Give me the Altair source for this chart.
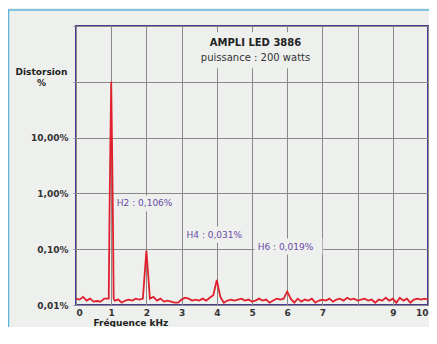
import altair as alt
import pandas as pd

# Spectrum (frequency in kHz, distortion in %)
freq = [0.0, 0.1, 0.2, 0.3, 0.4, 0.5, 0.6, 0.7, 0.8, 0.9,
        0.93, 0.95, 0.97, 1.0, 1.03, 1.05, 1.07,
        1.1, 1.2, 1.3, 1.4, 1.5, 1.6, 1.7, 1.8, 1.9,
        1.95, 2.0, 2.05, 2.1,
        2.2, 2.3, 2.4, 2.5, 2.6, 2.7, 2.8, 2.9, 3.0, 3.1, 3.2, 3.3, 3.4, 3.5, 3.6, 3.7, 3.8, 3.9,
        4.0, 4.1,
        4.2, 4.3, 4.4, 4.5, 4.6, 4.7, 4.8, 4.9, 5.0, 5.1, 5.2, 5.3, 5.4, 5.5, 5.6, 5.7, 5.8, 5.9,
        6.0, 6.1,
        6.2, 6.3, 6.4, 6.5, 6.6, 6.7, 6.8, 6.9, 7.0, 7.1, 7.2, 7.3, 7.4, 7.5, 7.6, 7.7, 7.8, 7.9,
        8.0, 8.1, 8.2, 8.3, 8.4, 8.5, 8.6, 8.7, 8.8, 8.9, 9.0, 9.1, 9.2, 9.3, 9.4, 9.5, 9.6, 9.7,
        9.8, 9.9, 10.0]
dist = [0.013, 0.0125, 0.014, 0.012, 0.013, 0.0115, 0.0118, 0.0115, 0.013, 0.013,
        0.013, 0.3, 3.5, 100.0, 3.5, 0.3, 0.013,
        0.012, 0.0125, 0.011, 0.012, 0.0125, 0.012, 0.013, 0.0125, 0.013,
        0.035, 0.095, 0.035, 0.013,
        0.014, 0.012, 0.013, 0.0115, 0.012, 0.0115, 0.011, 0.011, 0.0125, 0.0135, 0.013, 0.012, 0.0125, 0.012, 0.013, 0.012, 0.0135, 0.015,
        0.028, 0.014,
        0.011, 0.012, 0.0125, 0.012, 0.0125, 0.013, 0.012, 0.0125, 0.0115, 0.012, 0.013, 0.012, 0.0125, 0.011, 0.012, 0.013, 0.0125, 0.013,
        0.0175, 0.013,
        0.011, 0.013, 0.0115, 0.0125, 0.012, 0.013, 0.011, 0.012, 0.0125, 0.012, 0.013, 0.0115, 0.0125, 0.013, 0.012, 0.0135, 0.0125, 0.013,
        0.012, 0.0125, 0.013, 0.012, 0.0125, 0.011, 0.0125, 0.012, 0.0135, 0.012, 0.013, 0.011, 0.0135, 0.012, 0.013, 0.011, 0.0125, 0.013,
        0.0125, 0.013, 0.0125]

x_ticks = [0, 1, 2, 3, 4, 5, 6, 7, 8, 9, 10]
y_ticks = [0.01, 0.1, 1, 10, 100, 1000]

# Annotations (harmonic labels) in data units
ann_text = ["H2 : 0,106%", "H4 : 0,031%", "H6 : 0,019%"]
ann_x = [1.16, 3.14, 5.16]
ann_y = [0.66, 0.183, 0.1115]
box_x = [1.12, 3.08, 5.07, 3.25]
box_x2 = [2.95, 4.97, 7.0, 6.9]
box_y = [0.916, 0.255, 0.155, 774]
box_y2 = [0.473, 0.131, 0.080, 175]

title_main = ["AMPLI LED 3886"]
title_sub = ["puissance : 200 watts"]
title_x = [5.1]
title_main_y = [491]
title_sub_y = [264]

spec = pd.DataFrame({"x": freq, "y": dist})
ann = pd.DataFrame({"x": ann_x, "y": ann_y, "t": ann_text})
boxes = pd.DataFrame({"x": box_x, "x2": box_x2, "y": box_y, "y2": box_y2})
t_main = pd.DataFrame({"x": title_x, "y": title_main_y, "t": title_main})
t_sub = pd.DataFrame({"x": title_x, "y": title_sub_y, "t": title_sub})

x_enc = alt.X("x:Q", scale=alt.Scale(domain=[0, 10], nice=False, zero=False),
              axis=alt.Axis(values=x_ticks, title="Fréquence kHz",
                            labelExpr="datum.value == 8 ? '' : datum.label",
                            ticks=False, domain=False, labelPadding=3,
                            labelFont="DejaVu Sans", labelFontWeight="bold", labelFontSize=9,
                            labelColor="#333333",
                            titleFont="DejaVu Sans", titleFontWeight="bold", titleFontSize=9,
                            titleColor="#222222", titleAnchor="start", titleAlign="left",
                            titleX=17, titleY=17, titleBaseline="middle",
                            gridColor="#8a8a8a", gridOpacity=1, gridWidth=1))
y_enc = alt.Y("y:Q", scale=alt.Scale(type="log", domain=[0.01, 1000], nice=False),
              axis=alt.Axis(values=y_ticks, title=["Distorsion", "%"],
                            labelExpr="datum.value == 0.01 ? '0,01%' : datum.value == 0.1 ? '0,10%' : datum.value == 1 ? '1,00%' : datum.value == 10 ? '10,00%' : ''",
                            tickSize=3, tickColor="#8a8a8a", domain=False, labelPadding=5,
                            labelFont="DejaVu Sans", labelFontWeight="bold", labelFontSize=9,
                            labelColor="#333333",
                            titleFont="DejaVu Sans", titleFontWeight="bold", titleFontSize=9,
                            titleColor="#222222", titleAngle=0, titleAlign="center",
                            titleX=-35, titleY=41, titleBaseline="top", titleLineHeight=11,
                            gridColor="#8a8a8a", gridOpacity=1, gridWidth=1))

frame = alt.Chart(pd.DataFrame({"a": [0]})).mark_rect(
    fill=None, stroke="#5ab4dc", strokeWidth=1.5
).encode(x=alt.value(-67.5), x2=alt.value(380), y=alt.value(-16), y2=alt.value(340))

box_layer = alt.Chart(boxes).mark_rect(fill="#eef0ee").encode(
    x=x_enc, x2="x2:Q", y=y_enc, y2="y2:Q")

line = alt.Chart(spec).mark_line(color="#e0202c", strokeWidth=1.8, clip=True).encode(
    x=x_enc, y=y_enc)

ann_layer = alt.Chart(ann).mark_text(
    align="left", baseline="middle", font="DejaVu Sans", fontSize=9, color="#6a4aa6"
).encode(x=x_enc, y=y_enc, text="t:N")

main_layer = alt.Chart(t_main).mark_text(
    align="center", baseline="middle", font="DejaVu Sans", fontSize=10,
    fontWeight="bold", color="#222222"
).encode(x=x_enc, y=y_enc, text="t:N")

sub_layer = alt.Chart(t_sub).mark_text(
    align="center", baseline="middle", font="DejaVu Sans", fontSize=10, color="#333333"
).encode(x=x_enc, y=y_enc, text="t:N")

chart = alt.layer(frame, box_layer, line, ann_layer, main_layer, sub_layer).properties(
    width=352, height=279,
    padding={"left": 68, "top": 18, "right": 1, "bottom": 22},
    autosize=alt.AutoSizeParams(type="none"),
    background="#eef0ee"
).configure_view(stroke="#4a3a94", strokeWidth=2)

chart.save("out.html", embed_options={"renderer": "svg", "actions": False})
